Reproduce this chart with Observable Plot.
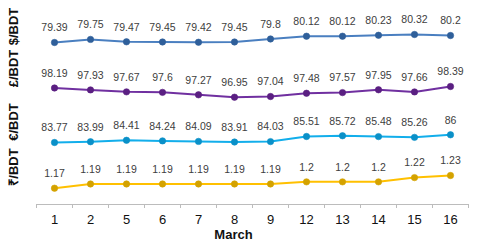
<!DOCTYPE html>
<html>
<head>
<meta charset="utf-8">
<script src="https://cdn.jsdelivr.net/npm/d3@7"></script>
<script src="https://cdn.jsdelivr.net/npm/@observablehq/plot@0.6"></script>
<style>
  html, body { margin: 0; padding: 0; background: #fff; }
  #chart { position: relative; width: 484px; height: 252px; overflow: hidden; }
  #chart svg { position: absolute; left: 0; top: 0; background: transparent; }
</style>
</head>
<body>
<div id="chart"></div>
<script>
// ---- data ----
const days = ["1", "2", "5", "6", "7", "8", "9", "12", "13", "14", "15", "16"];
const usd = [79.39, 79.75, 79.47, 79.45, 79.42, 79.45, 79.8, 80.12, 80.12, 80.23, 80.32, 80.2];
const gbp = [98.19, 97.93, 97.67, 97.6, 97.27, 96.95, 97.04, 97.48, 97.57, 97.95, 97.66, 98.39];
const eur = [83.77, 83.99, 84.41, 84.24, 84.09, 83.91, 84.03, 85.51, 85.72, 85.48, 85.26, 86];
const inr = [1.17, 1.19, 1.19, 1.19, 1.19, 1.19, 1.19, 1.2, 1.2, 1.2, 1.22, 1.23];
const seriesNames = ["$/BDT", "£/BDT", "€/BDT", "₹/BDT"];
const xTitle = "March";

// ---- styling / layout ----
const W = 484, H = 252;
const lineColors = ["#4a7fc0", "#7030a0", "#12aeeb", "#ffc000"];
const dotColors = ["#2f5f9a", "#5a1f82", "#0a90c8", "#d4a200"];
const yRanges = [[42, 34], [96.7, 86], [142, 134.3], [187.7, 175]];
const nameCenters = [26, 68, 121.5, 166.5];

// pick a narrow font for data labels if available
function hasFont(name) {
  const c = document.createElement("canvas").getContext("2d");
  c.font = "20px monospace"; const a = c.measureText("79.39 abcMW").width;
  c.font = `20px '${name}', monospace`; const b = c.measureText("79.39 abcMW").width;
  return Math.abs(a - b) > 0.5;
}
let labelFont = "Liberation Sans", labelSize = 10.5;
if (hasFont("Liberation Sans Narrow")) { labelFont = "Liberation Sans Narrow"; labelSize = 12; }

const allSeries = [usd, gbp, eur, inr];
const chart = document.getElementById("chart");

allSeries.forEach((vals, k) => {
  const data = days.map((d, i) => ({day: d, v: vals[i]}));
  const last = k === allSeries.length - 1;
  const marks = [
    Plot.line(data, {x: "day", y: "v", stroke: lineColors[k], strokeWidth: 2}),
    Plot.dot(data, {x: "day", y: "v", r: 3.2, fill: dotColors[k], stroke: dotColors[k], strokeWidth: 0.6}),
    Plot.text(data, {x: "day", y: "v", text: d => String(d.v), dy: -14.5, fontSize: labelSize,
      fontFamily: labelFont, fill: "#404040"}),
    Plot.text([seriesNames[k]], {frameAnchor: "top-left", textAnchor: "middle", lineAnchor: "middle",
      rotate: -90, dx: 13 - 36, dy: nameCenters[k],
      fontSize: 13, fontWeight: "bold", fontFamily: "Liberation Sans", fill: "#111"})
  ];
  if (last) {
    marks.push(
      Plot.frame({anchor: "bottom", stroke: "#bcbcbc"}),
      Plot.ruleX(days, {x: d => d, dx: -18, insetTop: H - 48, insetBottom: -4, stroke: "#bcbcbc"}),
      Plot.ruleX([days[days.length - 1]], {x: d => d, dx: 18, insetTop: H - 48, insetBottom: -4, stroke: "#bcbcbc"}),
      Plot.axisX({tickSize: 0, tickPadding: 10, fontSize: 13, fontFamily: "Liberation Sans", fill: "#111", label: null}),
      Plot.text([xTitle], {frameAnchor: "bottom", dx: 233 - (36 + (W - 16 - 36) / 2), dy: 34,
        fontSize: 13, fontWeight: "bold", fontFamily: "Liberation Sans", fill: "#111"})
    );
  }
  const svg = Plot.plot({
    width: W, height: H,
    marginLeft: 36, marginRight: 16, marginTop: 0, marginBottom: 48,
    style: {background: "transparent", overflow: "visible"},
    x: {type: "band", domain: days, range: [36, W - 16], padding: 0, axis: null},
    y: {domain: d3.extent(vals), range: yRanges[k], axis: null},
    marks
  });
  chart.appendChild(svg);
});
</script>
</body>
</html>
